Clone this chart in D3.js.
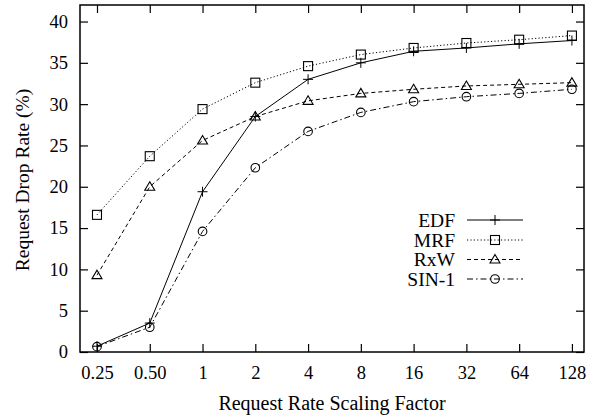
<!DOCTYPE html>
<html>
<head>
<meta charset="utf-8">
<script src="https://cdn.jsdelivr.net/npm/d3@7"></script>
<style>
  body { margin: 0; background: #fff; }
  svg text { font-family: "Liberation Serif", "Times New Roman", serif; fill: #000; }
</style>
</head>
<body>
<svg id="chart" width="605" height="419"></svg>
<script>
const factors = [0.25, 0.5, 1, 2, 4, 8, 16, 32, 64, 128]
const factorLabels = ["0.25", "0.50", "1", "2", "4", "8", "16", "32", "64", "128"]
const yTicks = [0, 5, 10, 15, 20, 25, 30, 35, 40]

const edf = [0.7, 3.5, 19.4, 28.5, 33.0, 35.0, 36.4, 36.8, 37.3, 37.7]
const mrf = [16.6, 23.7, 29.4, 32.6, 34.6, 36.0, 36.8, 37.4, 37.8, 38.3]
const rxw = [9.3, 20.0, 25.6, 28.5, 30.4, 31.3, 31.8, 32.2, 32.4, 32.6]
const sin1 = [0.65, 3.0, 14.6, 22.3, 26.7, 29.0, 30.3, 30.9, 31.3, 31.8]

const seriesNames = ["EDF", "MRF", "RxW", "SIN-1"]
const seriesData = [edf, mrf, rxw, sin1]
const seriesDash = ["none", "1.2,2.2", "4,3", "6,3,1.5,3"]
const seriesMark = ["plus", "square", "triangle", "circle"]

const pLeft = 80, pRight = 584, pTop = 5, pBottom = 352

const svg = d3.select("#chart")

const x = d3.scaleLog().base(2).domain([0.2, 150]).range([pLeft, pRight])
const y = d3.scaleLinear().domain([0, 42]).range([pBottom, pTop])

// axes, ticks drawn inward
const fontSize = "18.5px"
const gx = svg.append("g")
    .attr("transform", "translate(0," + pBottom + ")")
    .call(d3.axisBottom(x).tickValues(factors)
        .tickFormat((d, i) => factorLabels[i])
        .tickSizeInner(-8).tickSizeOuter(0).tickPadding(14))
const gxTop = svg.append("g")
    .attr("transform", "translate(0," + pTop + ")")
    .call(d3.axisTop(x).tickValues(factors)
        .tickFormat("").tickSizeInner(-8).tickSizeOuter(0))
const gy = svg.append("g")
    .attr("transform", "translate(" + pLeft + ",0)")
    .call(d3.axisLeft(y).tickValues(yTicks)
        .tickSizeInner(-8).tickSizeOuter(0).tickPadding(12))
const gyRight = svg.append("g")
    .attr("transform", "translate(" + pRight + ",0)")
    .call(d3.axisRight(y).tickValues(yTicks)
        .tickFormat("").tickSizeInner(-8).tickSizeOuter(0))

for (const g of [gx, gxTop, gy, gyRight]) {
    g.select(".domain").remove()
    g.selectAll(".tick line").attr("stroke", "#000").attr("stroke-width", 1.2)
    g.selectAll("text").attr("font-size", fontSize)
}

svg.append("rect")
    .attr("x", pLeft).attr("y", pTop)
    .attr("width", pRight - pLeft).attr("height", pBottom - pTop)
    .attr("fill", "none").attr("stroke", "#000").attr("stroke-width", 1.5)

svg.append("text")
    .attr("x", 332).attr("y", 410)
    .attr("text-anchor", "middle").attr("font-size", "20px")
    .text("Request Rate Scaling Factor")

svg.append("text")
    .attr("transform", "translate(29,180) rotate(-90)")
    .attr("text-anchor", "middle").attr("font-size", "19.5px")
    .text("Request Drop Rate (%)")

function drawMark(g, kind, cx, cy) {
    if (kind === "plus") {
        g.append("path").attr("d", "M" + (cx - 5) + "," + cy + "h10M" + cx + "," + (cy - 5) + "v10")
            .attr("stroke", "#000").attr("stroke-width", 1).attr("fill", "none")
    } else if (kind === "square") {
        g.append("rect").attr("x", cx - 4.5).attr("y", cy - 4.5).attr("width", 9).attr("height", 9)
            .attr("stroke", "#000").attr("stroke-width", 1.1).attr("fill", "none")
    } else if (kind === "triangle") {
        g.append("path").attr("d", "M" + cx + "," + (cy - 5) + "L" + (cx + 5) + "," + (cy + 3.5) + "L" + (cx - 5) + "," + (cy + 3.5) + "Z")
            .attr("stroke", "#000").attr("stroke-width", 1.1).attr("fill", "none")
    } else {
        g.append("circle").attr("cx", cx).attr("cy", cy).attr("r", 4.3)
            .attr("stroke", "#000").attr("stroke-width", 1.1).attr("fill", "none")
    }
}

const line = d3.line().x((d, i) => x(factors[i])).y(d => y(d))

seriesData.forEach((vals, k) => {
    const g = svg.append("g")
    g.append("path").datum(vals).attr("d", line)
        .attr("fill", "none").attr("stroke", "#000").attr("stroke-width", 1)
        .attr("stroke-dasharray", seriesDash[k])
    vals.forEach((v, i) => drawMark(g, seriesMark[k], x(factors[i]), y(v)))
})

// legend
const legendY = [220, 240, 259.5, 279]
seriesNames.forEach((name, k) => {
    const g = svg.append("g")
    g.append("text").attr("x", 455).attr("y", legendY[k]).attr("dy", "0.35em")
        .attr("text-anchor", "end").attr("font-size", "19.5px").text(name)
    g.append("line").attr("x1", 467).attr("x2", 523)
        .attr("y1", legendY[k]).attr("y2", legendY[k])
        .attr("stroke", "#000").attr("stroke-width", 1)
        .attr("stroke-dasharray", seriesDash[k])
    drawMark(g, seriesMark[k], 495, legendY[k])
})
</script>
</body>
</html>
